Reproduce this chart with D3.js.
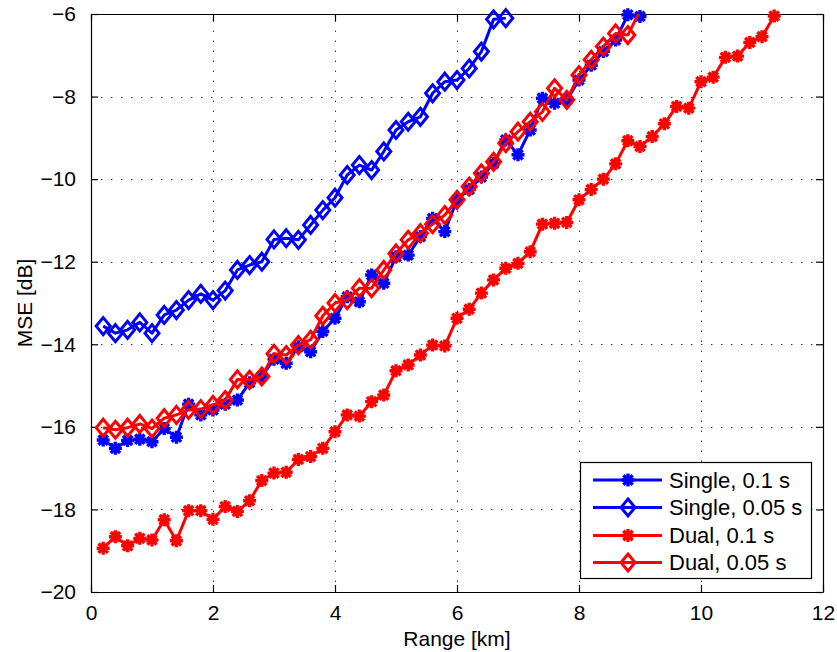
<!DOCTYPE html>
<html>
<head>
<meta charset="utf-8">
<script src="https://cdn.jsdelivr.net/npm/d3@7"></script>
<style>
  body { margin: 0; background: #fff; }
  svg { display: block; font-family: "Liberation Sans", Arial, Helvetica, sans-serif; }
</style>
</head>
<body>
<svg id="chart" width="837" height="652"></svg>
<script>
// ---- data ----
const singleFastX = [0.2,0.4,0.6,0.8,1.0,1.2,1.4,1.6,1.8,2.0,2.2,2.4,2.6,2.8,3.0,3.2,3.4,3.6,3.8,4.0,4.2,4.4,4.6,4.8,5.0,5.2,5.4,5.6,5.8,6.0,6.2,6.4,6.6,6.8,7.0,7.2,7.4,7.6,7.8,8.0,8.2,8.4,8.6,8.8,9.0];
const singleFast = [-16.32,-16.52,-16.33,-16.30,-16.36,-16.04,-16.25,-15.45,-15.71,-15.59,-15.45,-15.35,-14.93,-14.78,-14.36,-14.46,-14.06,-14.18,-13.69,-13.37,-12.85,-12.97,-12.32,-12.52,-11.88,-11.84,-11.39,-10.95,-11.27,-10.50,-10.25,-9.95,-9.62,-9.05,-9.41,-8.81,-8.04,-8.16,-8.08,-7.60,-7.24,-6.91,-6.63,-6.02,-6.06];

const singleSlowX = [0.2,0.4,0.6,0.8,1.0,1.2,1.4,1.6,1.8,2.0,2.2,2.4,2.6,2.8,3.0,3.2,3.4,3.6,3.8,4.0,4.2,4.4,4.6,4.8,5.0,5.2,5.4,5.6,5.8,6.0,6.2,6.4,6.6,6.8];
const singleSlow = [-13.56,-13.73,-13.65,-13.47,-13.73,-13.29,-13.17,-12.93,-12.78,-12.93,-12.70,-12.20,-12.08,-12.00,-11.46,-11.43,-11.47,-11.11,-10.75,-10.45,-9.90,-9.66,-9.78,-9.33,-8.81,-8.61,-8.49,-7.92,-7.64,-7.60,-7.32,-6.91,-6.13,-6.10];

const dualFastX = [0.2,0.4,0.6,0.8,1.0,1.2,1.4,1.6,1.8,2.0,2.2,2.4,2.6,2.8,3.0,3.2,3.4,3.6,3.8,4.0,4.2,4.4,4.6,4.8,5.0,5.2,5.4,5.6,5.8,6.0,6.2,6.4,6.6,6.8,7.0,7.2,7.4,7.6,7.8,8.0,8.2,8.4,8.6,8.8,9.0,9.2,9.4,9.6,9.8,10.0,10.2,10.4,10.6,10.8,11.0,11.2];
const dualFast = [-18.94,-18.66,-18.88,-18.70,-18.74,-18.25,-18.76,-18.03,-18.03,-18.24,-17.93,-18.05,-17.79,-17.30,-17.12,-17.10,-16.79,-16.72,-16.52,-16.12,-15.71,-15.74,-15.39,-15.23,-14.64,-14.50,-14.26,-14.02,-14.04,-13.37,-13.15,-12.76,-12.44,-12.16,-12.04,-11.76,-11.09,-11.07,-11.05,-10.50,-10.25,-10.00,-9.63,-9.07,-9.21,-8.97,-8.66,-8.24,-8.28,-7.64,-7.53,-7.05,-7.02,-6.69,-6.55,-6.05];

const dualSlowX = [0.2,0.4,0.6,0.8,1.0,1.2,1.4,1.6,1.8,2.0,2.2,2.4,2.6,2.8,3.0,3.2,3.4,3.6,3.8,4.0,4.2,4.4,4.6,4.8,5.0,5.2,5.4,5.6,5.8,6.0,6.2,6.4,6.6,6.8,7.0,7.2,7.4,7.6,7.8,8.0,8.2,8.4,8.6,8.8,9.0];
const dualSlow = [-16.02,-16.07,-16.02,-15.93,-16.04,-15.79,-15.71,-15.59,-15.57,-15.47,-15.35,-14.85,-14.86,-14.78,-14.23,-14.26,-14.02,-13.89,-13.31,-13.00,-12.93,-12.64,-12.64,-12.20,-11.80,-11.47,-11.31,-11.09,-10.87,-10.50,-10.18,-9.86,-9.58,-9.13,-8.85,-8.61,-8.37,-7.80,-8.08,-7.48,-7.11,-6.79,-6.47,-6.51,-5.92];

const seriesNames = ["Single, 0.1 s", "Single, 0.05 s", "Dual, 0.1 s", "Dual, 0.05 s"];
const seriesColors = ["#0000ff", "#0000ff", "#ff0000", "#ff0000"];
const seriesMarkers = ["star", "diamond", "star", "diamond"];

const xTicks = [0, 2, 4, 6, 8, 10, 12];
const yTicks = [-20, -18, -16, -14, -12, -10, -8, -6];
const xLabel = "Range [km]";
const yLabel = "MSE [dB]";

// ---- layout ----
const svg = d3.select("#chart");
const L = 91, R = 823, T = 14, B = 592;
const x = d3.scaleLinear().domain([0, 12]).range([L, R]);
const y = d3.scaleLinear().domain([-20, -6]).range([B, T]);

// grid
const grid = svg.append("g").attr("stroke", "#333").attr("stroke-width", 1)
  .attr("stroke-dasharray", "1.4,8.6");
xTicks.slice(1, -1).forEach(t => grid.append("line")
  .attr("x1", x(t) + 0.5).attr("x2", x(t) + 0.5).attr("y1", B).attr("y2", T));
yTicks.slice(1, -1).forEach(t => grid.append("line")
  .attr("x1", L).attr("x2", R).attr("y1", Math.round(y(t)) + 0.5).attr("y2", Math.round(y(t)) + 0.5));

// axes (inward ticks on all four sides)
const tickLen = 7;
const fmt = d => d < 0 ? "\u2212" + Math.abs(d) : String(d);
const axB = svg.append("g").attr("transform", `translate(0,${B})`)
  .call(d3.axisBottom(x).tickValues(xTicks).tickSizeInner(-tickLen).tickSizeOuter(0).tickPadding(13).tickFormat(fmt));
const axT = svg.append("g").attr("transform", `translate(0,${T})`)
  .call(d3.axisTop(x).tickValues(xTicks).tickSizeInner(-tickLen).tickSizeOuter(0).tickFormat(""));
const axLft = svg.append("g").attr("transform", `translate(${L},0)`)
  .call(d3.axisLeft(y).tickValues(yTicks).tickSizeInner(-tickLen).tickSizeOuter(0).tickPadding(15).tickFormat(fmt));
const axRt = svg.append("g").attr("transform", `translate(${R},0)`)
  .call(d3.axisRight(y).tickValues(yTicks).tickSizeInner(-tickLen).tickSizeOuter(0).tickFormat(""));
[axB, axT, axLft, axRt].forEach(a => {
  a.select(".domain").attr("stroke", "#000").attr("stroke-width", 1.2);
  a.selectAll(".tick line").attr("stroke", "#000").attr("stroke-width", 1.2);
  a.selectAll("text").attr("font-size", 21).attr("fill", "#000")
    .attr("font-family", "'Liberation Sans', Arial, Helvetica, sans-serif");
});

// clip
svg.append("clipPath").attr("id", "plotclip").append("rect")
  .attr("x", L).attr("y", T).attr("width", R - L).attr("height", B - T);

const starPath = r => {
  const d = r * 0.72;
  return `M${-r},0L${r},0M0,${-r}L0,${r}M${-d},${-d}L${d},${d}M${-d},${d}L${d},${-d}`;
};
const diamondPath = (w, h) => `M0,${-h}L${w},0L0,${h}L${-w},0Z`;

function drawMarker(g, type, color, cx, cy) {
  if (type === "star") {
    g.append("path").attr("d", starPath(6.5)).attr("transform", `translate(${cx},${cy})`)
      .attr("stroke", color).attr("stroke-width", 3.4).attr("fill", "none");
  } else {
    g.append("path").attr("d", diamondPath(7, 8.5)).attr("transform", `translate(${cx},${cy})`)
      .attr("stroke", color).attr("stroke-width", 3).attr("fill", "none").attr("stroke-linejoin", "miter");
  }
}

const allX = [singleFastX, singleSlowX, dualFastX, dualSlowX];
const allY = [singleFast, singleSlow, dualFast, dualSlow];
const line = d3.line().x(d => x(d[0])).y(d => y(d[1]));

allX.forEach((xs, i) => {
  const pts = xs.map((v, j) => [v, allY[i][j]]);
  const g = svg.append("g");
  g.append("path").datum(pts).attr("d", line).attr("clip-path", "url(#plotclip)")
    .attr("fill", "none").attr("stroke", seriesColors[i]).attr("stroke-width", 3)
    .attr("stroke-linejoin", "round");
  pts.filter(p => p[1] <= -6 && p[1] >= -20).forEach(p =>
    drawMarker(g, seriesMarkers[i], seriesColors[i], x(p[0]), y(p[1])));
});

// labels
svg.append("text").attr("x", x(6)).attr("y", 646).attr("text-anchor", "middle")
  .attr("font-size", 21).text(xLabel);
svg.append("text").attr("transform", `translate(32,${(T + B) / 2}) rotate(-90)`)
  .attr("text-anchor", "middle").attr("font-size", 21).text(yLabel);

// legend
const lg = svg.append("g");
lg.append("rect").attr("x", 580.5).attr("y", 462.5).attr("width", 231).attr("height", 116)
  .attr("fill", "#fff").attr("stroke", "#000").attr("stroke-width", 1.2);
const rowY = [480, 507.5, 535.5, 562.5];
seriesNames.forEach((n, i) => {
  lg.append("line").attr("x1", 593).attr("x2", 662).attr("y1", rowY[i]).attr("y2", rowY[i])
    .attr("stroke", seriesColors[i]).attr("stroke-width", 3);
  drawMarker(lg, seriesMarkers[i], seriesColors[i], 628, rowY[i]);
  lg.append("text").attr("x", 669).attr("y", rowY[i]).attr("dy", "0.36em")
    .attr("font-size", 22).text(n);
});
</script>
</body>
</html>
